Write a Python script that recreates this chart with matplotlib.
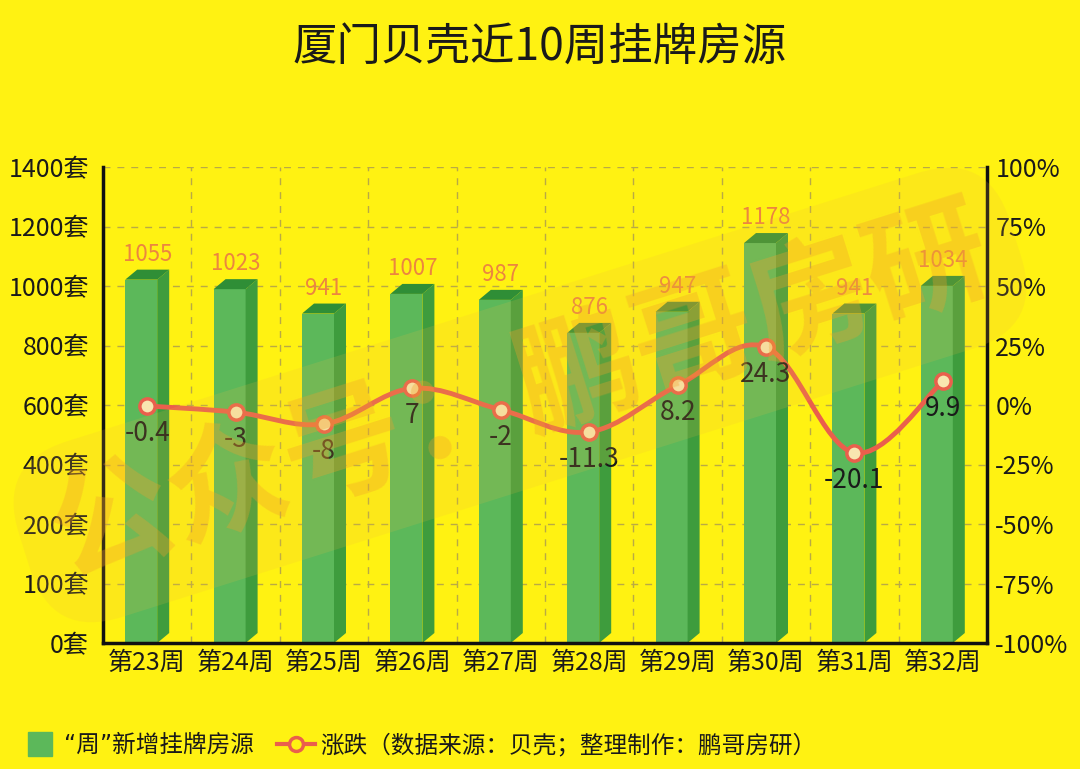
import numpy as np
import matplotlib
matplotlib.use('Agg')
import matplotlib.pyplot as plt
from matplotlib.patches import Polygon, PathPatch
from matplotlib.path import Path
from matplotlib.lines import Line2D
import matplotlib.transforms as mtransforms

plt.rcParams['font.family'] = ['Noto Sans CJK SC', 'DejaVu Sans']

# 数据
weeks = ['第23周', '第24周', '第25周', '第26周', '第27周',
         '第28周', '第29周', '第30周', '第31周', '第32周']
listings = [1055, 1023, 941, 1007, 987, 876, 947, 1178, 941, 1034]
change = [-0.4, -3, -8, 7, -2, -11.3, 8.2, 24.3, -20.1, 9.9]
left_ticks = [0, 100, 200, 400, 600, 800, 1000, 1200, 1400]
right_ticks = [-100, -75, -50, -25, 0, 25, 50, 75, 100]

BG = '#FFF212'
FRONT = '#5CB85A'
SIDE = '#3E9C3D'
TOP = '#2F8E36'
LABEL_ORANGE = '#EC8540'
LINE_RED = '#EA5F4C'
GRID = '#B9AA45'
TXT = '#1A1A1A'

fig = plt.figure(figsize=(10.8, 7.69), dpi=100, facecolor=BG)
ax = fig.add_axes([103/1080, 1-643/769, (987-103)/1080, (643-167)/769])
ax.set_facecolor(BG)

# 左轴刻度不等距: 0,100,200,400...按等间隔排布
pos = np.arange(len(left_ticks))
def fwd(v):
    return np.interp(v, left_ticks, pos)
def inv(p):
    return np.interp(p, pos, left_ticks)
ax.set_yscale('function', functions=(fwd, inv))
ax.set_ylim(0, 1400)
ax.set_xlim(-0.5, len(weeks)-0.5)
x = np.arange(len(weeks))

ax.set_yticks(left_ticks)
ax.set_yticklabels([f'{t}套' for t in left_ticks])
ax.set_xticks(x)
ax.set_xticklabels(weeks)
ax.tick_params(axis='both', length=0, labelsize=18, colors=TXT)
ax.tick_params(axis='y', pad=10)
ax.tick_params(axis='x', pad=5)

# 网格
for t in left_ticks[1:]:
    ax.axhline(t, color=GRID, lw=1, ls=(0, (5, 5)), zorder=0)
for b in np.arange(0.5, len(weeks)-0.5, 1):
    ax.axvline(b, color=GRID, lw=1, ls=(0, (5, 5)), zorder=0)

for s in ['left', 'bottom']:
    ax.spines[s].set_linewidth(2.5)
    ax.spines[s].set_color('#111111')
ax.spines['top'].set_visible(False)
ax.spines['right'].set_visible(False)

# 立体柱子(像素偏移)
depth_x, depth_y = 12, 10
front_w = 32
fig.canvas.draw()
T = ax.transData
for i, v in enumerate(listings):
    cx, y0 = T.transform((x[i], 0))
    _, yv = T.transform((x[i], v))
    l = cx - (front_w + depth_x) / 2
    r = l + front_w
    front = Polygon([(l, y0), (r, y0), (r, yv-depth_y), (l, yv-depth_y)],
                    closed=True, fc=FRONT, ec='none', transform=mtransforms.IdentityTransform(), zorder=2)
    side = Polygon([(r, y0), (r, yv-depth_y), (r+depth_x, yv), (r+depth_x, y0+depth_y)],
                   closed=True, fc=SIDE, ec='none', transform=mtransforms.IdentityTransform(), zorder=2)
    top = Polygon([(l, yv-depth_y), (r, yv-depth_y), (r+depth_x, yv), (l+depth_x, yv)],
                  closed=True, fc=TOP, ec='none', transform=mtransforms.IdentityTransform(), zorder=2)
    for p in (front, side, top):
        ax.add_patch(p)
    ax.annotate(str(v), (x[i], v), xytext=(0, 4), textcoords='offset pixels',
                ha='center', va='bottom', fontsize=16, color=LABEL_ORANGE, zorder=3)

# 涨跌折线(右轴)
ax2 = ax.twinx()
ax2.set_ylim(-100, 100)
ax2.set_yticks(right_ticks)
ax2.set_yticklabels([f'{t}%' for t in right_ticks])
ax2.tick_params(axis='y', length=0, labelsize=18, colors=TXT, pad=6)
ax2.spines['right'].set_linewidth(2.5)
ax2.spines['right'].set_color('#111111')
for s in ['top', 'left', 'bottom']:
    ax2.spines[s].set_visible(False)

pts = np.column_stack([x, change]).astype(float)
verts = [tuple(pts[0])]
codes = [Path.MOVETO]
k = 0.35
for i in range(len(pts)-1):
    p0 = pts[i-1] if i > 0 else pts[i]
    p1 = pts[i]
    p2 = pts[i+1]
    p3 = pts[i+2] if i+2 < len(pts) else pts[i+1]
    c1 = p1 + (p2 - p0) * k / 2
    c2 = p2 - (p3 - p1) * k / 2
    verts += [tuple(c1), tuple(c2), tuple(p2)]
    codes += [Path.CURVE4, Path.CURVE4, Path.CURVE4]
ax2.add_patch(PathPatch(Path(verts, codes), fc='none', ec=LINE_RED, lw=3.5, zorder=4))
ax2.plot(x, change, ls='none', marker='o', ms=11, mfc='#F8E6B0', mec=LINE_RED, mew=2.5, zorder=5)
for i, c in enumerate(change):
    ax2.annotate(f'{c:g}', (x[i], c), xytext=(0, -14), textcoords='offset pixels',
                 ha='center', va='top', fontsize=19, color=TXT, zorder=6)

# 标题
fig.text(0.5, 1-48/769, '厦门贝壳近10周挂牌房源', ha='center', va='center',
         fontsize=32, color=TXT)

# 图例
h1 = Line2D([], [], ls='none', marker='s', ms=17, mfc=FRONT, mec=FRONT)
h2 = Line2D([], [], color=LINE_RED, lw=3, marker='o', ms=10, mfc=BG, mec=LINE_RED, mew=2.5)
fig.legend([h1, h2], ['“周”新增挂牌房源', '涨跌（数据来源：贝壳；整理制作：鹏哥房研）'],
           loc='center left', bbox_to_anchor=(0.0, 1-745/769), ncol=2, frameon=False,
           prop=dict(family=['DejaVu Sans', 'Noto Sans CJK SC'], size=17),
           handlelength=1.6, handletextpad=0.2, columnspacing=1.0,
           labelcolor=TXT)

# 水印
fig.text(520/1080, 1-395/769, '公众号：鹏哥房研', rotation=17.5, ha='center', va='center',
         fontsize=88, fontweight='bold', color='#F2A02A', alpha=0.33, zorder=10,
         bbox=dict(boxstyle='round,pad=0.25,rounding_size=0.6', fc='#F0B840', ec='none', alpha=0.16))

fig.savefig('out.png', dpi=100, facecolor=BG)
